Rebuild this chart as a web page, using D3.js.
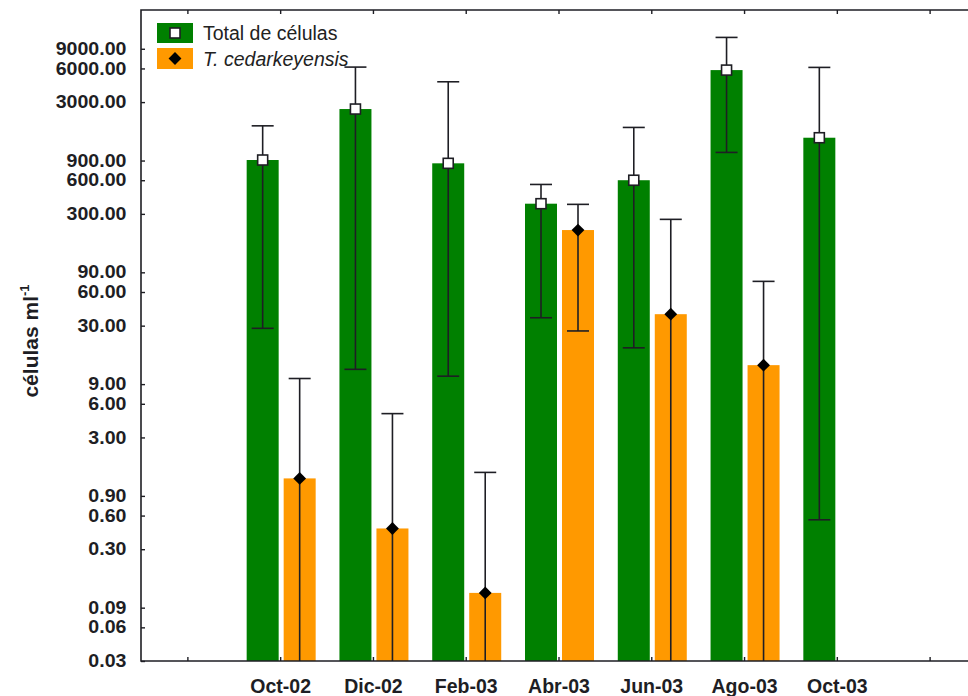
<!DOCTYPE html>
<html>
<head>
<meta charset="utf-8">
<script src="https://cdn.jsdelivr.net/npm/d3@7"></script>
<style>
  html, body { margin: 0; padding: 0; background: #fff; }
  svg { display: block; font-family: "Liberation Sans", Arial, sans-serif; }
</style>
</head>
<body>
<svg id="chart" width="968" height="696"></svg>
<script>
// Sampling dates
const categories = ["Oct-02", "Dic-02", "Feb-03", "Abr-03", "Jun-03", "Ago-03", "Oct-03"];

// Total cell counts (cells/ml): mean, upper and lower error limits
const totalMean  = [910, 2600, 850, 370, 600, 5800, 1440];
const totalUpper = [1840, 6170, 4560, 550, 1780, 11370, 6130];
const totalLower = [28.4, 12.2, 10.6, 35.3, 19, 1064, 0.55];

// T. cedarkeyensis counts (cells/ml); 0 marks a lower limit below the axis
const cedMean  = [1.29, 0.46, 0.122, 215, 38, 13.3, null];
const cedUpper = [10.1, 4.9, 1.46, 365, 268, 74.7, null];
const cedLower = [0, 0, 0, 26.9, 0, 0, null];

const yTickValues = [0.03, 0.06, 0.09, 0.3, 0.6, 0.9, 3, 6, 9, 30, 60, 90, 300, 600, 900, 3000, 6000, 9000];

const legendLabels = ["Total de células", "T. cedarkeyensis"];

const GREEN = "#008000";
const ORANGE = "#ff9900";
const INK = "#1e1e24";

const svg = d3.select("#chart");
const margin = { left: 141, top: 10, right: -8, bottom: 35 };
const W = 968, H = 696;
const plotRight = W - margin.right;
const plotBottom = H - margin.bottom;

// x positions: one empty slot on each side of the dates
const slots = ["__pre", ...categories, "__post"];
const x = d3.scalePoint().domain(slots).range([margin.left, plotRight]).padding(0.5);
const y = d3.scaleLog().domain([0.03, 20000]).range([plotBottom, margin.top]).clamp(true);

const barW = 32;
const gap = 2.5;

const groups = categories.map((c, i) => ({
  cat: c,
  total: { mean: totalMean[i], up: totalUpper[i], lo: totalLower[i] },
  ced: cedMean[i] == null ? null : { mean: cedMean[i], up: cedUpper[i], lo: cedLower[i] }
}));

// Bars
const barLayer = svg.append("g");
groups.forEach(g => {
  const cx = x(g.cat);
  barLayer.append("rect")
    .attr("x", cx - gap - barW + 1)
    .attr("width", barW)
    .attr("y", y(g.total.mean))
    .attr("height", y(0.03) - y(g.total.mean))
    .attr("fill", GREEN);
  if (g.ced) {
    barLayer.append("rect")
      .attr("x", cx + gap + 1)
      .attr("width", barW)
      .attr("y", y(g.ced.mean))
      .attr("height", y(0.03) - y(g.ced.mean))
      .attr("fill", ORANGE);
  }
});

// Error bars
const errLayer = svg.append("g").attr("stroke", INK).attr("stroke-width", 1.6).attr("fill", "none");
function errorBar(cx, e) {
  const yTop = y(e.up);
  const yBot = e.lo > 0 ? y(e.lo) : y(0.03);
  errLayer.append("line").attr("x1", cx).attr("x2", cx).attr("y1", yTop).attr("y2", yBot);
  errLayer.append("line").attr("x1", cx - 11).attr("x2", cx + 11).attr("y1", yTop).attr("y2", yTop);
  if (e.lo > 0.03) {
    errLayer.append("line").attr("x1", cx - 11).attr("x2", cx + 11).attr("y1", yBot).attr("y2", yBot);
  }
}
groups.forEach(g => {
  const cx = x(g.cat);
  errorBar(cx - gap - barW / 2 + 1, g.total);
  if (g.ced) errorBar(cx + gap + barW / 2 + 1, g.ced);
});

// Mean markers
const markLayer = svg.append("g");
function squareMark(sel, cx, cy) {
  sel.append("rect").attr("x", cx - 5).attr("y", cy - 5).attr("width", 10).attr("height", 10)
    .attr("fill", "#fff").attr("stroke", INK).attr("stroke-width", 1.6);
}
function diamondMark(sel, cx, cy) {
  sel.append("path").attr("d", d3.symbol(d3.symbolDiamond2, 105)())
    .attr("transform", `translate(${cx},${cy})`).attr("fill", "#000");
}
groups.forEach(g => {
  const cx = x(g.cat);
  squareMark(markLayer, cx - gap - barW / 2 + 1, y(g.total.mean));
  if (g.ced) diamondMark(markLayer, cx + gap + barW / 2 + 1, y(g.ced.mean));
});

// Axes
const axisLayer = svg.append("g");

const yAxis = d3.axisLeft(y).tickValues(yTickValues).tickFormat(d3.format(".2f"))
  .tickSizeInner(-4).tickSizeOuter(0).tickPadding(13);
const yG = axisLayer.append("g").attr("transform", `translate(${margin.left},0)`).call(yAxis);
yG.select(".domain").remove();
yG.selectAll(".tick line").attr("stroke", INK).attr("stroke-width", 1.4);
yG.selectAll(".tick text")
  .attr("font-size", 17.5).attr("font-weight", "bold").attr("fill", INK)
  .attr("font-family", "'Liberation Sans', Arial, sans-serif")
  .attr("transform", "scale(1.12,1)");

const xAxis = d3.axisBottom(x).tickFormat(d => d.startsWith("__") ? "" : d)
  .tickSizeInner(-4).tickSizeOuter(0).tickPadding(18);
const xG = axisLayer.append("g").attr("transform", `translate(0,${plotBottom})`).call(xAxis);
xG.select(".domain").remove();
xG.selectAll(".tick line").attr("stroke", INK).attr("stroke-width", 1.4);
xG.selectAll(".tick text")
  .attr("font-size", 19.5).attr("font-weight", "bold").attr("fill", INK)
  .attr("font-family", "'Liberation Sans', Arial, sans-serif");

const xTop = d3.axisTop(x).tickFormat("").tickSizeInner(-4).tickSizeOuter(0);
const xTopG = axisLayer.append("g").attr("transform", `translate(0,${margin.top})`).call(xTop);
xTopG.select(".domain").remove();
xTopG.selectAll(".tick line").attr("stroke", INK).attr("stroke-width", 1.4);

// Frame
axisLayer.append("path")
  .attr("d", `M${W},${margin.top}H${margin.left}V${plotBottom}H${W}`)
  .attr("fill", "none").attr("stroke", INK).attr("stroke-width", 1.6);

// Y axis title
const yTitle = svg.append("text")
  .attr("transform", `translate(38,341) rotate(-90)`)
  .attr("text-anchor", "middle")
  .attr("font-size", 21).attr("font-weight", "bold").attr("fill", INK);
yTitle.append("tspan").text("células ml");
yTitle.append("tspan").attr("font-size", 13).attr("dy", -9).text("-1");

// Legend
const legend = svg.append("g").attr("transform", "translate(157,23)");
legend.append("rect").attr("x", 0).attr("y", 0).attr("width", 36).attr("height", 20).attr("fill", GREEN);
squareMark(legend, 18, 10);
legend.append("rect").attr("x", 0).attr("y", 25).attr("width", 36).attr("height", 21).attr("fill", ORANGE);
diamondMark(legend, 18, 35.5);
legend.append("text").attr("x", 46).attr("y", 16.5)
  .attr("font-size", 19.5).attr("fill", "#222").text(legendLabels[0]);
legend.append("text").attr("x", 46).attr("y", 42.5)
  .attr("font-size", 19.5).attr("font-style", "italic").attr("fill", "#222").text(legendLabels[1]);
</script>
</body>
</html>
